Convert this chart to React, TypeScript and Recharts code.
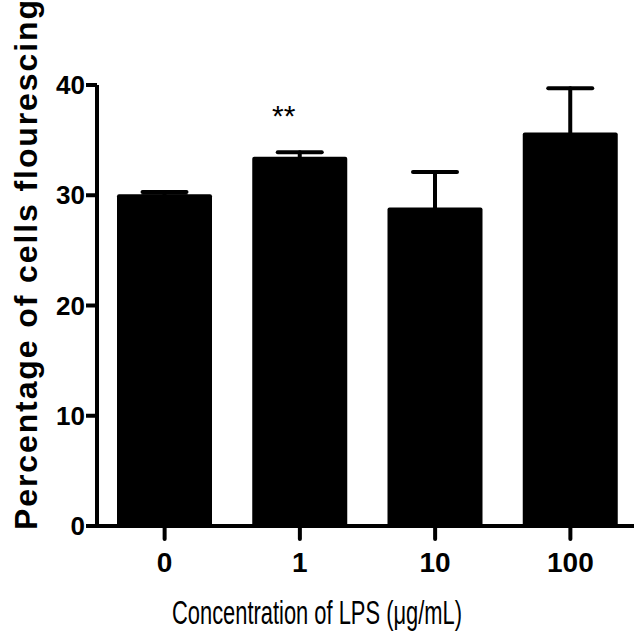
import React from 'react';
import { BarChart, Bar, XAxis, YAxis, ErrorBar, LabelList, Label } from 'recharts';

const categories = ['0', '1', '10', '100'];
const means = [30.1, 33.5, 28.9, 35.7];
const sem = [0.2, 0.4, 3.2, 4.0];
const significance = ['', '**', '', ''];
const yTicks = [0, 10, 20, 30, 40];

const xTitle = 'Concentration of LPS (\u03bcg/mL)';
const yTitle = 'Percentage of cells flourescing';

const data = categories.map((c, i) => ({
  conc: c,
  mean: means[i],
  sem: sem[i],
  sig: significance[i],
}));

const FONT = '"Liberation Sans", Arial, sans-serif';

const SigLabel = (props: any) => {
  const { x, y, width, value } = props;
  if (!value) return null;
  return (
    <text
      x={Number(x) + Number(width) / 2 - 16}
      y={Number(y) - 31}
      textAnchor="middle"
      fontFamily={FONT}
      fontSize={30}
      fill="#000"
    >
      {value}
    </text>
  );
};

export default function App() {
  return (
    <div style={{ position: 'absolute', left: 0, top: 0, width: 634, height: 640, overflow: 'hidden', background: '#fff' }}>
      <BarChart
        width={640}
        height={640}
        data={data}
        margin={{ top: 85, right: 2, left: 0, bottom: 0 }}
        barSize={95}
      >
        <XAxis
          dataKey="conc"
          height={114}
          axisLine={{ stroke: '#000', strokeWidth: 4 }}
          tickLine={{ stroke: '#000', strokeWidth: 4, strokeLinecap: 'round' }}
          tickSize={13}
          tickMargin={13}
          tick={{ fill: '#000', fontSize: 28, fontWeight: 'bold', fontFamily: FONT }}
          interval={0}
        >
          <Label
            content={() => (
              <text
                x={172}
                y={624}
                fontFamily={FONT}
                fontSize={33}
                fill="#000"
                textLength={290}
                lengthAdjust="spacingAndGlyphs"
              >
                {xTitle}
              </text>
            )}
          />
        </XAxis>
        <YAxis
          width={97}
          domain={[0, 40]}
          ticks={yTicks}
          allowDataOverflow
          axisLine={{ stroke: '#000', strokeWidth: 4 }}
          tickLine={{ stroke: '#000', strokeWidth: 4 }}
          tickSize={11}
          tickMargin={1}
          tick={{ fill: '#000', fontSize: 26, fontWeight: 'bold', fontFamily: FONT }}
        >
          <Label
            content={() => (
              <text
                transform="translate(37,530) rotate(-90)"
                x={0}
                y={0}
                fontFamily={FONT}
                fontSize={32}
                fontWeight="bold"
                fill="#000"
                textLength={530}
                lengthAdjust="spacing"
              >
                {yTitle}
              </text>
            )}
          />
        </YAxis>
        <Bar dataKey="mean" fill="#000" radius={2} isAnimationActive={false}>
          <ErrorBar
            dataKey="sem"
            width={22}
            stroke="#000"
            strokeWidth={4}
            strokeLinecap="round"
            direction="y"
            isAnimationActive={false}
          />
          <LabelList dataKey="sig" content={SigLabel} />
        </Bar>
      </BarChart>
    </div>
  );
}
